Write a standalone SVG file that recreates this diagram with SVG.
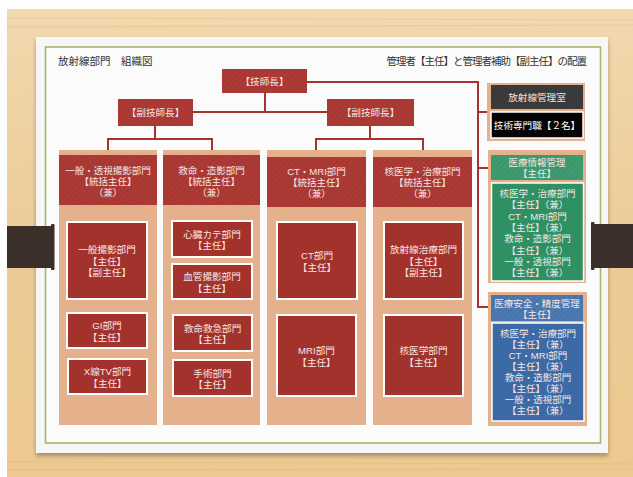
<svg xmlns="http://www.w3.org/2000/svg" width="633" height="477" viewBox="0 0 633 477">
<defs>
<linearGradient id="wood" x1="0" y1="0" x2="0" y2="1">
<stop offset="0" stop-color="#f2d9ae"/>
<stop offset="0.5" stop-color="#eccb98"/>
<stop offset="1" stop-color="#eec88f"/>
</linearGradient>
<pattern id="hatch" width="4" height="4" patternUnits="userSpaceOnUse" patternTransform="rotate(45)">
<rect width="4" height="4" fill="none"/>
<line x1="0" y1="0" x2="0" y2="4" stroke="#000" stroke-opacity="0.09" stroke-width="1.5"/>
</pattern>
<filter id="sh" x="-5%" y="-5%" width="110%" height="115%">
<feDropShadow dx="0" dy="3" stdDeviation="2" flood-color="#000" flood-opacity="0.3"/>
</filter>
</defs>
<style>
text{font-family:"Liberation Sans","Noto Sans CJK JP",sans-serif;text-anchor:middle;dominant-baseline:central}
.t{fill:#333;font-size:10.5px;text-anchor:start}
.w{fill:#f6e6e2;font-size:9.5px}
.wi{fill:#f6e6e2;font-size:9.6px}
.col{fill:#e5b08c}
.hdr{fill:#ad3a35}
.box{fill:#a3322d;stroke:#fff;stroke-width:2}
.top{fill:#ad3a35}
.hat{fill:url(#hatch)}
.con{fill:none;stroke:#a8332e;stroke-width:2}
.clip{fill:#3a2f29}
</style>
<rect x="0" y="0" width="633" height="477" fill="#fdfdfd"/>
<rect x="7" y="9" width="626" height="468" fill="url(#wood)"/>
<g stroke="#d9b07a" stroke-opacity="0.35" stroke-width="1">
<line x1="7" y1="18" x2="633" y2="20"/><line x1="7" y1="27" x2="633" y2="25"/><line x1="7" y1="462" x2="633" y2="464"/><line x1="7" y1="470" x2="633" y2="469"/>
</g>
<rect x="36" y="37" width="572" height="416" fill="#f6f6f6" filter="url(#sh)"/>
<rect x="45.5" y="47" width="555" height="396" fill="#fbfbfb" stroke="#a2b86a" stroke-width="1.6"/>
<text class="t" x="58" y="61">放射線部門　組織図</text>
<text class="t" x="586" y="61" style="text-anchor:end;letter-spacing:-1px">管理者【主任】と管理者補助【副主任】の配置</text>
<g id="connectors">
<polyline class="con" points="265,93 265,112"/>
<polyline class="con" points="193,112 327,112"/>
<polyline class="con" points="155,126 155,139"/>
<polyline class="con" points="108,150 108,139 212,139 212,150"/>
<polyline class="con" points="370,126 370,139"/>
<polyline class="con" points="316,150 316,139 423,139 423,150"/>
<polyline class="con" points="307,82 478,82 478,307 488,307"/>
<polyline class="con" points="478,112 487,112"/>
<polyline class="con" points="478,168 488,168"/>
</g>
<g id="gishicho">
<rect class="top" x="222" y="69" width="85" height="24"/><rect class="hat" x="222" y="69" width="85" height="24"/>
<text class="wi" x="264.5" y="81">【技師長】</text>
</g>
<g id="fuku1">
<rect class="top" x="118" y="99" width="75" height="27"/><rect class="hat" x="118" y="99" width="75" height="27"/>
<text class="wi" x="155.5" y="112.5">【副技師長】</text>
</g>
<g id="fuku2">
<rect class="top" x="327" y="99" width="87" height="27"/><rect class="hat" x="327" y="99" width="87" height="27"/>
<text class="wi" x="370.5" y="112.5">【副技師長】</text>
</g>
<g id="col1">
<rect class="col" x="59" y="150" width="98" height="275"/>
<rect class="hdr" x="59" y="155" width="98" height="50"/><rect class="hat" x="59" y="155" width="98" height="50"/>
<text class="w"><tspan x="108" y="170">一般・透視撮影部門</tspan><tspan x="108" y="181">【統括主任】</tspan><tspan x="108" y="192">（兼）</tspan></text>
</g>
<g id="col2">
<rect class="col" x="163" y="150" width="97" height="275"/>
<rect class="hdr" x="163" y="155" width="97" height="50"/><rect class="hat" x="163" y="155" width="97" height="50"/>
<text class="w"><tspan x="211.5" y="170">救命・造影部門</tspan><tspan x="211.5" y="181">【統括主任】</tspan><tspan x="211.5" y="192">（兼）</tspan></text>
</g>
<g id="col3">
<rect class="col" x="267" y="150" width="99" height="275"/>
<rect class="hdr" x="267" y="157" width="99" height="50"/><rect class="hat" x="267" y="157" width="99" height="50"/>
<text class="w"><tspan x="316.5" y="171">CT・MRI部門</tspan><tspan x="316.5" y="182">【統括主任】</tspan><tspan x="316.5" y="193">（兼）</tspan></text>
</g>
<g id="col4">
<rect class="col" x="373" y="150" width="99" height="275"/>
<rect class="hdr" x="373" y="157" width="99" height="50"/><rect class="hat" x="373" y="157" width="99" height="50"/>
<text class="w"><tspan x="422.5" y="171">核医学・治療部門</tspan><tspan x="422.5" y="182">【統括主任】</tspan><tspan x="422.5" y="193">（兼）</tspan></text>
</g>
<g id="ippan">
<rect class="box" x="67" y="222" width="80" height="77"/>
<text class="wi"><tspan x="107" y="249">一般撮影部門</tspan><tspan x="107" y="260.5">【主任】</tspan><tspan x="107" y="272">【副主任】</tspan></text>
</g>
<g id="gi">
<rect class="box" x="67" y="313" width="80" height="35"/>
<text class="wi"><tspan x="107" y="325">GI部門</tspan><tspan x="107" y="336.5">【主任】</tspan></text>
</g>
<g id="xtv">
<rect class="box" x="68" y="359" width="79" height="35"/>
<text class="wi"><tspan x="107.5" y="371">X線TV部門</tspan><tspan x="107.5" y="382.5">【主任】</tspan></text>
</g>
<g id="shinzo">
<rect class="box" x="172" y="221" width="80" height="36"/>
<text class="wi"><tspan x="212" y="233.5">心臓カテ部門</tspan><tspan x="212" y="245">【主任】</tspan></text>
</g>
<g id="kekkan">
<rect class="box" x="172" y="264" width="80" height="35"/>
<text class="wi"><tspan x="212" y="276">血管撮影部門</tspan><tspan x="212" y="287.5">【主任】</tspan></text>
</g>
<g id="kyumei">
<rect class="box" x="173" y="315" width="79" height="36"/>
<text class="wi"><tspan x="212.5" y="327.5">救命救急部門</tspan><tspan x="212.5" y="339">【主任】</tspan></text>
</g>
<g id="shujutsu">
<rect class="box" x="173" y="360" width="79" height="36"/>
<text class="wi"><tspan x="212.5" y="372.5">手術部門</tspan><tspan x="212.5" y="384">【主任】</tspan></text>
</g>
<g id="ct">
<rect class="box" x="277" y="222" width="80" height="77"/>
<text class="wi"><tspan x="317" y="255">CT部門</tspan><tspan x="317" y="266.5">【主任】</tspan></text>
</g>
<g id="mri">
<rect class="box" x="277" y="315" width="79" height="81"/>
<text class="wi"><tspan x="316.5" y="350">MRI部門</tspan><tspan x="316.5" y="361.5">【主任】</tspan></text>
</g>
<g id="chiryo">
<rect class="box" x="384" y="222" width="79" height="77"/>
<text class="wi"><tspan x="423.5" y="249">放射線治療部門</tspan><tspan x="423.5" y="260.5">【主任】</tspan><tspan x="423.5" y="272">【副主任】</tspan></text>
</g>
<g id="kaku">
<rect class="box" x="384" y="315" width="79" height="81"/>
<text class="wi"><tspan x="423.5" y="350">核医学部門</tspan><tspan x="423.5" y="361.5">【主任】</tspan></text>
</g>
<g id="kanri">
<rect class="col" x="487" y="83" width="98" height="58"/>
<rect x="491" y="85" width="92" height="24" fill="#3b3b3b"/><rect class="hat" x="491" y="85" width="92" height="24"/>
<text class="wi" x="537" y="97">放射線管理室</text>
<rect x="491" y="112" width="92" height="26" fill="#050505" stroke="#fff" stroke-width="1.5"/>
<text class="wi" x="537" y="125" style="fill:#fff">技術専門職【２名】</text>
</g>
<g id="iryojoho">
<rect class="col" x="488" y="150" width="98" height="133"/>
<rect x="491" y="155" width="92" height="25" fill="#3e9c70"/><rect class="hat" x="491" y="155" width="92" height="25"/>
<text class="w"><tspan x="537" y="162">医療情報管理</tspan><tspan x="537" y="173">【主任】</tspan></text>
<rect x="491.5" y="183" width="92" height="98" fill="#2f9163" stroke="#fff" stroke-width="1.5"/>
<text class="w"><tspan x="537.5" y="193">核医学・治療部門</tspan><tspan x="537.5" y="204.3">【主任】（兼）</tspan><tspan x="537.5" y="215.6">CT・MRI部門</tspan><tspan x="537.5" y="226.9">【主任】（兼）</tspan><tspan x="537.5" y="238.2">救命・造影部門</tspan><tspan x="537.5" y="249.5">【主任】（兼）</tspan><tspan x="537.5" y="260.8">一般・透視部門</tspan><tspan x="537.5" y="272.1">【主任】（兼）</tspan></text>
</g>
<g id="iryoanzen">
<rect class="col" x="488" y="292" width="99" height="134"/>
<rect x="491" y="295" width="92" height="26" fill="#4b79b2"/><rect class="hat" x="491" y="295" width="92" height="26"/>
<text class="w"><tspan x="537" y="302.5">医療安全・精度管理</tspan><tspan x="537" y="313.5">【主任】</tspan></text>
<rect x="492" y="323" width="92" height="98" fill="#3b6aa6" stroke="#fff" stroke-width="1.5"/>
<text class="w"><tspan x="538" y="333">核医学・治療部門</tspan><tspan x="538" y="344">【主任】（兼）</tspan><tspan x="538" y="355">CT・MRI部門</tspan><tspan x="538" y="366">【主任】（兼）</tspan><tspan x="538" y="377">救命・造影部門</tspan><tspan x="538" y="388">【主任】（兼）</tspan><tspan x="538" y="399">一般・透視部門</tspan><tspan x="538" y="410">【主任】（兼）</tspan></text>
</g>
<rect class="clip" x="7" y="226" width="46" height="42"/>
<rect class="clip" x="51" y="224" width="3.5" height="46" rx="1"/>
<rect class="clip" x="593" y="224" width="40" height="44"/>
<rect class="clip" x="591" y="222" width="3.5" height="48" rx="1"/>
</svg>
